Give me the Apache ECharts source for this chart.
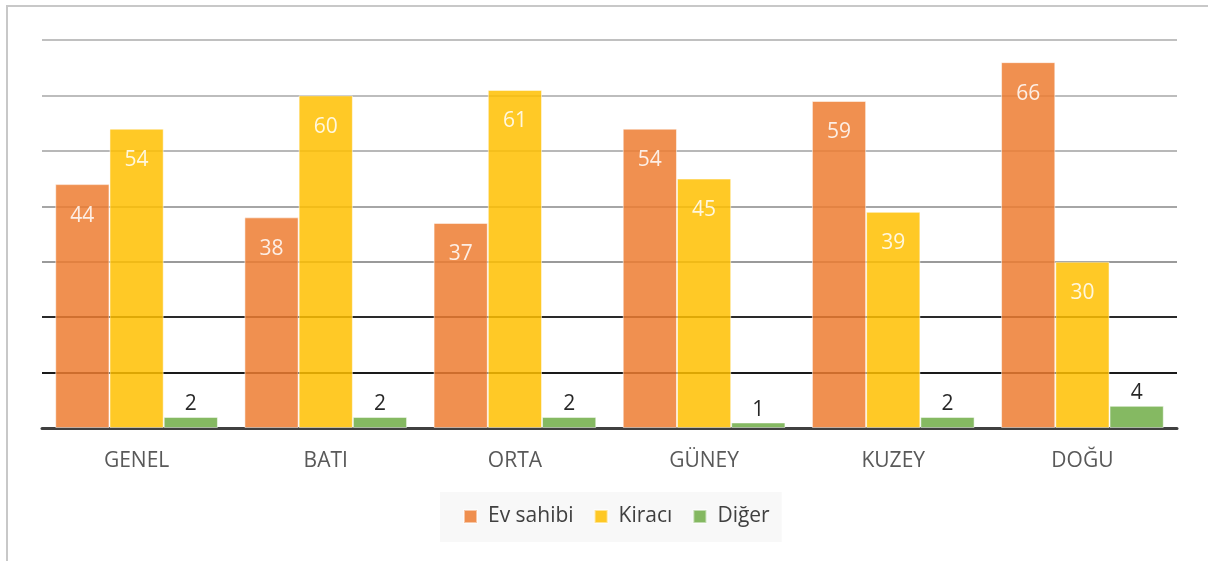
<!DOCTYPE html>
<html>
<head>
<meta charset="utf-8">
<script src="https://cdn.jsdelivr.net/npm/echarts@6/dist/echarts.min.js"></script>
<style>
    html, body { margin: 0; padding: 0; background: #fff; }
    #chart { width: 1208px; height: 561px; }
</style>
</head>
<body>
<div id="chart"></div>
<script>
// kategoriler ve seriler
var categories = ['GENEL', 'BATI', 'ORTA', 'GÜNEY', 'KUZEY', 'DOĞU'];
var seriesNames = ['Ev sahibi', 'Kiracı', 'Diğer'];
var evSahibi = [44, 38, 37, 54, 59, 66];
var kiraci = [54, 60, 61, 45, 39, 30];
var diger = [2, 2, 2, 1, 2, 4];

var fontFamily = '"Open Sans", "Noto Sans", sans-serif';
var colors = ['#ED7D31', '#FFC000', '#70AD47'];

var myChart = echarts.init(document.getElementById('chart'));

function barSeries(name, data, color, inside) {
    return {
        name: name,
        type: 'bar',
        data: data,
        barGap: '0%',
        barCategoryGap: '14%',
        itemStyle: {
            color: color,
            opacity: 0.85,
            borderColor: 'rgba(255,255,255,0.6)',
            borderWidth: 1
        },
        label: {
            show: true,
            position: inside ? 'insideTop' : 'top',
            distance: inside ? 21 : 2,
            color: inside ? '#ffffff' : '#000000',
            fontSize: 21,
            fontFamily: fontFamily
        }
    };
}

var option = {
    backgroundColor: '#ffffff',
    animation: false,
    color: colors,
    graphic: [{
        type: 'rect',
        shape: { x: 7, y: 6, width: 1300, height: 700 },
        style: { fill: 'none', stroke: '#c8c8c8', lineWidth: 2 },
        silent: true
    }],
    grid: {
        left: 42,
        right: 31,
        top: 40,
        bottom: 133
    },
    legend: {
        data: seriesNames,
        left: 440,
        top: 492,
        backgroundColor: '#f8f8f8',
        padding: [14, 12, 15, 23],
        itemWidth: 13,
        itemHeight: 13,
        itemGap: 20,
        icon: 'rect',
        textStyle: {
            color: '#404040',
            fontSize: 21,
            fontFamily: fontFamily,
            padding: [0, 0, 0, 6]
        }
    },
    xAxis: {
        type: 'category',
        data: categories,
        axisLine: { lineStyle: { color: '#404040', width: 3 } },
        axisTick: { show: false },
        axisLabel: {
            color: '#595959',
            fontSize: 21,
            fontFamily: fontFamily,
            margin: 23
        }
    },
    yAxis: {
        type: 'value',
        min: 0,
        max: 70,
        interval: 10,
        axisLabel: { show: false },
        axisLine: { show: false },
        axisTick: { show: false },
        splitLine: {
            lineStyle: {
                // 0, 10, 20 ... 70 çizgileri sırasıyla
                color: ['#404040', '#1a1a1a', '#2a2a2a', '#9a9a9a', '#a6a6a6', '#b8b8b8', '#bdbdbd', '#c0c0c0'],
                width: 2
            }
        }
    },
    series: [
        barSeries(seriesNames[0], evSahibi, colors[0], true),
        barSeries(seriesNames[1], kiraci, colors[1], true),
        barSeries(seriesNames[2], diger, colors[2], false)
    ]
};

myChart.setOption(option);
</script>
</body>
</html>
